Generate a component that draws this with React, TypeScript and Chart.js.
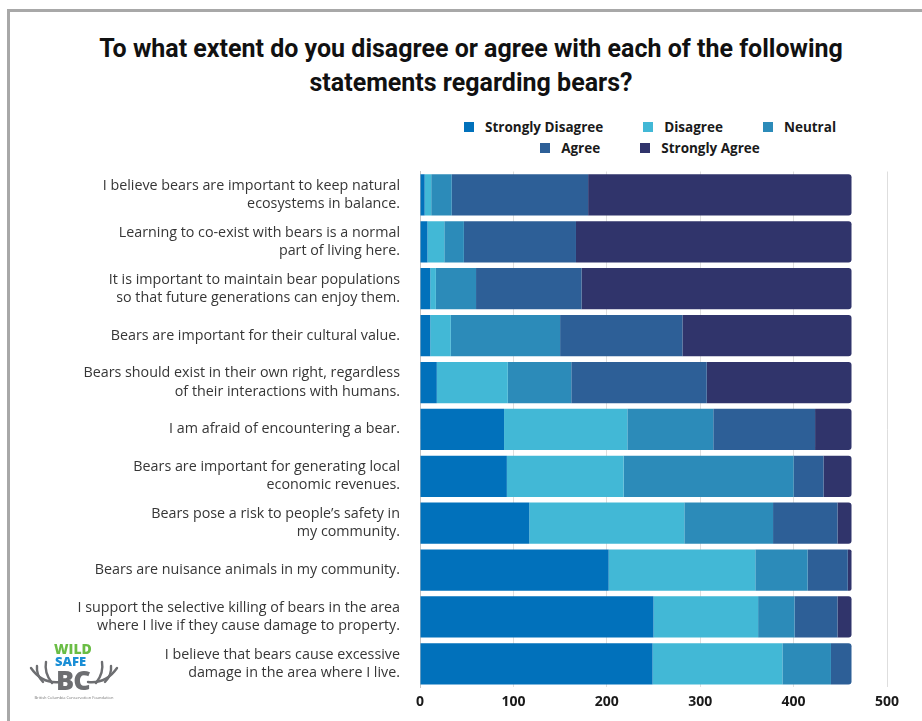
import React, { useEffect, useRef } from "react";
import { Chart, registerables } from "chart.js";

Chart.register(...registerables);

const categories: string[][] = [
  ["I believe bears are important to keep natural", "ecosystems in balance."],
  ["Learning to co-exist with bears is a normal", "part of living here."],
  ["It is important to maintain bear populations", "so that future generations can enjoy them."],
  ["Bears are important for their cultural value."],
  ["Bears should exist in their own right, regardless", "of their interactions with humans."],
  ["I am afraid of encountering a bear."],
  ["Bears are important for generating local", "economic revenues."],
  ["Bears pose a risk to people\u2019s safety in", "my community."],
  ["Bears are nuisance animals in my community."],
  ["I support the selective killing of bears in the area", "where I live if they cause damage to property."],
  ["I believe that bears cause excessive", "damage in the area where I live."],
];

const seriesNames = ["Strongly Disagree", "Disagree", "Neutral", "Agree", "Strongly Agree"];
const seriesColors = ["#0171bb", "#42b8d6", "#2c8bb9", "#2d5f97", "#30346b"];

const stronglyDisagree = [5, 8, 11, 11, 18, 90, 93, 117, 202, 250, 249];
const disagree = [7, 18, 6, 22, 76, 132, 125, 166, 157, 112, 139];
const neutral = [22, 21, 43, 117, 68, 92, 182, 95, 56, 39, 52];
const agree = [146, 120, 113, 131, 145, 109, 32, 69, 43, 46, 22];
const stronglyAgree = [282, 295, 289, 181, 155, 39, 30, 15, 4, 15, 0];

const xTicks = [0, 100, 200, 300, 400, 500];

const titleLines = [
  "To what extent do you disagree or agree with each of the following",
  "statements regarding bears?",
];

const legendRows = [[0, 1, 2], [3, 4]];

function ChartCanvas() {
  const ref = useRef<HTMLCanvasElement | null>(null);
  useEffect(() => {
    if (!ref.current) return;
    const values = [stronglyDisagree, disagree, neutral, agree, stronglyAgree];
    const chart = new Chart(ref.current, {
      type: "bar",
      data: {
        labels: categories,
        datasets: values.map((v, i) => ({
          label: seriesNames[i],
          data: v,
          backgroundColor: seriesColors[i],
          borderWidth: 0,
          borderRadius: 3,
          borderSkipped: "start" as const,
          barPercentage: 0.88,
          categoryPercentage: 1,
        })),
      },
      options: {
        indexAxis: "y",
        responsive: false,
        animation: false,
        devicePixelRatio: 1,
        layout: { padding: { top: 11.5, bottom: 4.9, left: 0, right: 35 } },
        plugins: {
          legend: { display: false },
          title: { display: false },
          tooltip: { enabled: false },
        },
        scales: {
          x: {
            stacked: true,
            min: 0,
            max: 500,
            afterBuildTicks: (scale: any) => {
              scale.ticks = xTicks.map((v) => ({ value: v }));
            },
            afterFit: (scale: any) => {
              scale.paddingLeft = 0;
              scale.paddingRight = 0;
            },
            grid: { color: "#dedede", lineWidth: 1, drawTicks: false },
            border: { display: false },
            ticks: {
              padding: 6,
              color: "#1a1a1a",
              font: { family: "'Open Sans', sans-serif", size: 14, weight: "bold" },
            },
          },
          y: {
            stacked: true,
            afterFit: (scale: any) => {
              scale.width = 420;
              scale.paddingTop = 0;
              scale.paddingBottom = 0;
            },
            grid: { display: false, drawTicks: false },
            border: { display: true, color: "#c4c4c4", width: 1 },
            ticks: {
              padding: 20,
              color: "#363636",
              font: { family: "'Open Sans', sans-serif", size: 14.3, lineHeight: 1.27 },
            },
          },
        },
      },
    });
    return () => chart.destroy();
  }, []);
  return (
    <canvas
      ref={ref}
      width={922}
      height={561}
      style={{ position: "absolute", left: 0, top: 160, width: 922, height: 561 }}
    />
  );
}

function Logo() {
  return (
    <div style={{ position: "absolute", left: 28, top: 640, width: 92, height: 64 }}>
      <svg width="92" height="64" style={{ position: "absolute", left: 0, top: 0 }}>
        <g stroke="#6d6e71" strokeWidth="2.4" fill="none" strokeLinecap="round">
          <path d="M32 42 Q14 44 3 28" />
          <path d="M24 43 Q16 33 18 22" />
          <path d="M15 42 Q8 35 9 26" />
          <path d="M60 42 Q78 44 89 28" />
          <path d="M68 43 Q76 33 74 22" />
          <path d="M77 42 Q84 35 83 26" />
        </g>
      </svg>
      <div style={{ position: "absolute", left: 26, top: 2, fontFamily: "'Open Sans', sans-serif", fontWeight: 800, fontSize: 14, lineHeight: "13px", color: "#6abd45" }}>WILD</div>
      <div style={{ position: "absolute", left: 27, top: 15, fontFamily: "'Open Sans', sans-serif", fontWeight: 800, fontSize: 13, lineHeight: "13px", color: "#1b8fd6" }}>SAFE</div>
      <div style={{ position: "absolute", left: 28, top: 26, fontFamily: "'Open Sans', sans-serif", fontWeight: 800, fontSize: 27, lineHeight: "27px", color: "#6d6e71", letterSpacing: -1 }}>BC</div>
      <div style={{ position: "absolute", left: 3, top: 55, width: 86, textAlign: "center", fontFamily: "'Open Sans', sans-serif", fontSize: 4, color: "#777" }}>British Columbia Conservation Foundation</div>
    </div>
  );
}

export default function App() {
  return (
    <div style={{ position: "fixed", left: 0, top: 0, width: 922, height: 721, overflow: "hidden", background: "#ffffff" }}>
      <div style={{ position: "absolute", left: 7, top: 9, width: 940, height: 740, border: "3px solid #a8a8a8", boxSizing: "border-box" }} />
      <div style={{ position: "absolute", left: 0, top: 32, width: 942, textAlign: "center", fontFamily: "Roboto, sans-serif", fontWeight: 700, fontSize: 25, lineHeight: "34px", color: "#111" }}>
        {titleLines.map((t, i) => (
          <div key={i}>{t}</div>
        ))}
      </div>
      {legendRows.map((row, r) => (
        <div key={r} style={{ position: "absolute", left: 350, width: 600, top: 118 + r * 20.5, height: 18, display: "flex", justifyContent: "center", alignItems: "center", gap: 40 }}>
          {row.map((i) => (
            <div key={i} style={{ display: "flex", alignItems: "center", gap: 11 }}>
              <div style={{ width: 10, height: 10, background: seriesColors[i] }} />
              <span style={{ fontFamily: "'Open Sans', sans-serif", fontWeight: 700, fontSize: 13.5, color: "#1a1a1a", lineHeight: "18px" }}>{seriesNames[i]}</span>
            </div>
          ))}
        </div>
      ))}
      <ChartCanvas />
      <Logo />
    </div>
  );
}
